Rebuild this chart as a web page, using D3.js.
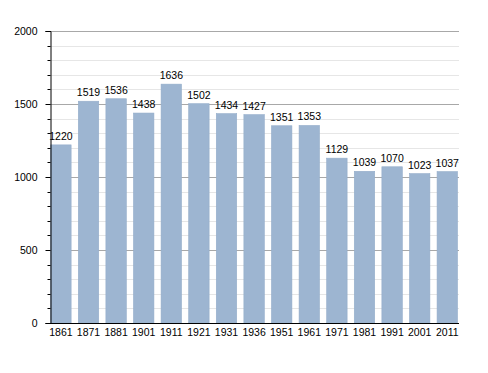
<!DOCTYPE html>
<html><head><meta charset="utf-8">
<script src="https://cdn.jsdelivr.net/npm/d3@7"></script>
<style>body{margin:0;background:#fff}svg{display:block}</style>
</head><body>
<script>
const years = ["1861","1871","1881","1901","1911","1921","1931","1936","1951","1961","1971","1981","1991","2001","2011"];
const population = [1220,1519,1536,1438,1636,1502,1434,1427,1351,1353,1129,1039,1070,1023,1037];
const yTicks = [0,500,1000,1500,2000];

(function () {
const W = 488, H = 373;
const svg = d3.select("body").append("svg").attr("width", W).attr("height", H);
const font = "Liberation Sans, Arial, sans-serif";
const fs = 10.5;
const mLeft = 50, mRight = 459, mTop = 31, mBottom = 323;

const y = d3.scaleLinear().domain([0,2000]).range([mBottom, mTop]);
const x = d3.scaleBand().domain(years).range([50.7, 457.5]).paddingInner(0.26).paddingOuter(0);

// minor gridlines
const minor = d3.range(100, 2001, 100).filter(v => v % 500 !== 0);
svg.append("g").selectAll("line").data(minor).join("line")
  .attr("x1", mLeft).attr("x2", mRight)
  .attr("y1", d => Math.round(y(d)) + 0.5).attr("y2", d => Math.round(y(d)) + 0.5)
  .attr("stroke", "#e6e6e6").attr("stroke-width", 1);
// major gridlines
svg.append("g").selectAll("line").data(yTicks.filter(d => d > 0)).join("line")
  .attr("x1", mLeft).attr("x2", mRight)
  .attr("y1", d => Math.round(y(d)) + 0.5).attr("y2", d => Math.round(y(d)) + 0.5)
  .attr("stroke", "#a8a8a8").attr("stroke-width", 1);

// bars
svg.append("g").selectAll("rect").data(population).join("rect")
  .attr("x", (d,i) => x(years[i]))
  .attr("width", x.bandwidth())
  .attr("y", d => y(d))
  .attr("height", d => mBottom - y(d))
  .attr("fill", "#9db5d1")
  .attr("stroke", "#94adca").attr("stroke-width", 0.6);

// value labels
svg.append("g").selectAll("text").data(population).join("text")
  .attr("x", (d,i) => x(years[i]) + x.bandwidth()/2)
  .attr("y", d => y(d) - 5)
  .attr("text-anchor", "middle")
  .attr("font-family", font).attr("font-size", fs).attr("fill", "#000")
  .text(d => d);

// y axis
const yAxis = d3.axisLeft(y).tickValues(yTicks).tickFormat(d3.format("d")).tickSize(5).tickPadding(8);
const gy = svg.append("g").attr("transform", `translate(${mLeft + 0.5},0)`).call(yAxis);
gy.select(".domain").attr("stroke", "#000");
gy.selectAll(".tick line").attr("stroke", "#000");
gy.selectAll(".tick text").attr("font-family", font).attr("font-size", fs).attr("fill", "#000");
// minor ticks
gy.append("g").selectAll("line").data(minor).join("line")
  .attr("x1", -3).attr("x2", 0)
  .attr("y1", d => Math.round(y(d)) + 0.5).attr("y2", d => Math.round(y(d)) + 0.5)
  .attr("stroke", "#000");

// x axis
const xAxis = d3.axisBottom(x).tickSize(0).tickPadding(5);
const gx = svg.append("g").attr("transform", `translate(0,${mBottom + 0.5})`).call(xAxis);
gx.select(".domain").attr("d", `M${mLeft},0H${mRight}`).attr("stroke", "#000").attr("stroke-width", 1.2);
gx.selectAll(".tick text").attr("font-family", font).attr("font-size", fs).attr("fill", "#000");
})();
</script>
</body></html>
